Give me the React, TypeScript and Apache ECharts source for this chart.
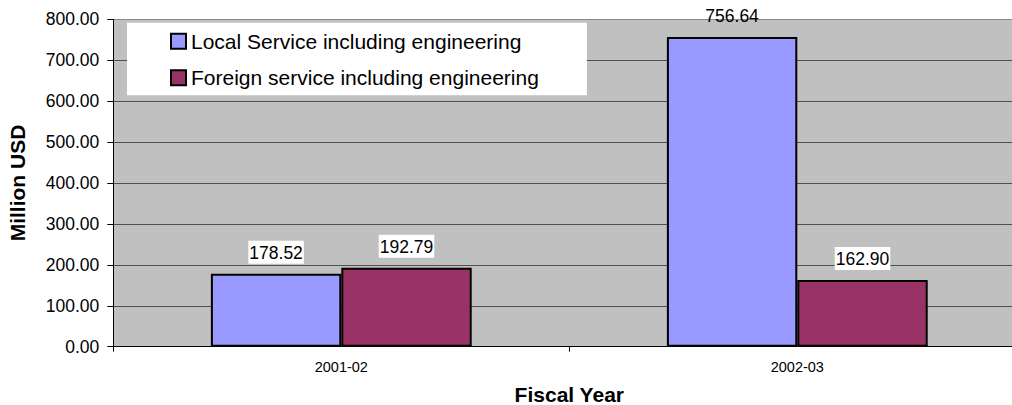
import React, { useEffect, useRef } from "react";
import * as echarts from "echarts";

const categories = ["2001-02", "2002-03"];
const localService = [178.52, 756.64];
const foreignService = [192.79, 162.9];
const seriesNames = [
  "Local Service including engineering",
  "Foreign service including engineering",
];
const yMin = 0;
const yMax = 800;
const yInterval = 100;

const FONT = "'Liberation Sans', Arial, sans-serif";

export default function App() {
  const ref = useRef<HTMLDivElement>(null);

  useEffect(() => {
    if (!ref.current) return;
    const chart = echarts.init(ref.current, undefined, { renderer: "svg" });

    const labelBase = {
      show: true,
      position: "top",
      distance: 10,
      fontSize: 17.5,
      fontFamily: FONT,
      color: "#000",
      backgroundColor: "#fff",
      padding: [3, 1, 2, 1],
      formatter: (p: any) => Number(p.value).toFixed(2),
    };

    const mkData = (arr: number[]) =>
      arr.map((v) =>
        v > yMax * 0.9 ? { value: v, label: { backgroundColor: "transparent" } } : v
      );

    const splitColors: string[] = [];
    for (let v = yMin; v <= yMax; v += yInterval) {
      splitColors.push(v === yMax ? "#8a8a8a" : "#505050");
    }

    chart.setOption({
      animation: false,
      backgroundColor: "#fff",
      textStyle: { fontFamily: FONT },
      grid: {
        left: 113.3,
        top: 19.3,
        width: 912,
        height: 327.4,
        show: true,
        backgroundColor: "#C0C0C0",
        borderWidth: 0,
        containLabel: false,
        outerBoundsMode: "none",
      },
      legend: {
        orient: "vertical",
        left: 127,
        top: 22.7,
        padding: [8, 48, 7, 43],
        itemGap: 15.5,
        itemWidth: 15,
        itemHeight: 15,
        backgroundColor: "#fff",
        icon: "rect",
        textStyle: { fontSize: 21, fontFamily: FONT, color: "#000" },
        data: seriesNames,
      },
      xAxis: {
        type: "category",
        data: categories,
        boundaryGap: true,
        name: "Fiscal Year",
        nameLocation: "middle",
        nameGap: 37,
        nameTextStyle: { fontSize: 21, fontWeight: "bold", fontFamily: FONT, color: "#000" },
        axisLine: { lineStyle: { color: "#000", width: 1 } },
        axisTick: { show: true, length: 5, lineStyle: { color: "#000" } },
        axisLabel: { fontSize: 14.5, fontFamily: FONT, color: "#000", margin: 13 },
        splitLine: { show: false },
      },
      yAxis: {
        type: "value",
        min: yMin,
        max: yMax,
        interval: yInterval,
        name: "Million USD",
        nameLocation: "middle",
        nameGap: 85,
        nameTextStyle: { fontSize: 21, fontWeight: "bold", fontFamily: FONT, color: "#000" },
        axisLine: { show: true, lineStyle: { color: "#000", width: 1 } },
        axisTick: { show: true, length: 6, lineStyle: { color: "#000" } },
        axisLabel: {
          fontSize: 17.5,
          fontFamily: FONT,
          color: "#000",
          margin: 14,
          formatter: (v: number) => v.toFixed(2),
        },
        splitLine: { show: true, lineStyle: { color: splitColors, width: 1 } },
      },
      series: [
        {
          name: seriesNames[0],
          type: "bar",
          data: mkData(localService),
          barGap: "0%",
          barCategoryGap: "42.8%",
          itemStyle: { color: "#9999FF", borderColor: "#000", borderWidth: 2 },
          label: labelBase,
        },
        {
          name: seriesNames[1],
          type: "bar",
          data: mkData(foreignService),
          barGap: "0%",
          barCategoryGap: "42.8%",
          itemStyle: { color: "#993366", borderColor: "#000", borderWidth: 2 },
          label: labelBase,
        },
      ],
    });

    return () => chart.dispose();
  }, []);

  return (
    <div
      style={{
        position: "fixed",
        left: 0,
        top: 0,
        width: 1012,
        height: 405,
        overflow: "hidden",
        background: "#fff",
      }}
    >
      <div ref={ref} style={{ width: 1040, height: 405 }} />
    </div>
  );
}
